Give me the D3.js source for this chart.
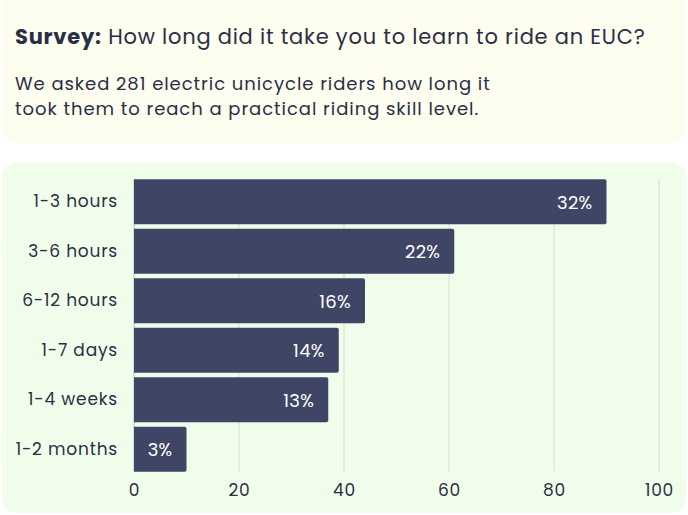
<!DOCTYPE html>
<html>
<head>
<meta charset="utf-8">
<script src="https://cdn.jsdelivr.net/npm/d3@7"></script>
<style>
  html, body { margin: 0; padding: 0; background: #ffffff; }
  svg { display: block; font-family: Poppins, Inter, "Noto Sans", sans-serif; }
</style>
</head>
<body>
<svg id="chart" width="688" height="515"></svg>
<script>
// survey answers, number of riders per bucket
var categories = ["1-3 hours", "3-6 hours", "6-12 hours", "1-7 days", "1-4 weeks", "1-2 months"];
var riders = [90, 61, 44, 39, 37, 10];
var percentLabels = ["32%", "22%", "16%", "14%", "13%", "3%"];
var xTicks = [0, 20, 40, 60, 80, 100];

var titleBold = "Survey:";
var titleRest = " How long did it take you to learn to ride an EUC?";
var subtitleLines = ["We asked 281 electric unicycle riders how long it",
                     "took them to reach a practical riding skill level."];

var svg = d3.select("#chart");
var ink = "#2b2f45";

// header card
svg.append("rect")
    .attr("x", 2).attr("y", -12)
    .attr("width", 684).attr("height", 155)
    .attr("rx", 14)
    .attr("fill", "#fdfdf0");

var title = svg.append("text")
    .attr("x", 15).attr("y", 44)
    .attr("font-size", 21)
    .attr("letter-spacing", 0.77)
    .attr("fill", ink);
title.append("tspan").attr("font-weight", 700).text(titleBold);
title.append("tspan").text(titleRest);

svg.selectAll(".sub")
    .data(subtitleLines)
    .enter().append("text")
    .attr("class", "sub")
    .attr("x", 15)
    .attr("y", function (d, i) { return 90 + i * 25; })
    .attr("font-size", 18)
    .attr("letter-spacing", 0.95)
    .attr("fill", ink)
    .text(function (d) { return d; });

// chart card
svg.append("rect")
    .attr("x", 2).attr("y", 163)
    .attr("width", 684).attr("height", 350)
    .attr("rx", 14)
    .attr("fill", "#f1fdeb");

var x = d3.scaleLinear().domain([0, 100]).range([134, 659]);
var y = d3.scaleBand()
    .domain(categories)
    .range([177, 474])
    .paddingInner(0.09)
    .paddingOuter(0.045);

var plotTop = y(categories[0]);
var plotBottom = y(categories[categories.length - 1]) + y.bandwidth();

// vertical grid
svg.append("g")
    .selectAll("line")
    .data(xTicks)
    .enter().append("line")
    .attr("x1", function (d) { return x(d); })
    .attr("x2", function (d) { return x(d); })
    .attr("y1", plotTop)
    .attr("y2", plotBottom)
    .attr("stroke", function (d) { return d === 0 ? "#b9c2b7" : "#d4ded1"; })
    .attr("stroke-width", 1);

var rows = categories.map(function (c, i) {
    return { name: c, value: riders[i], label: percentLabels[i] };
});

// bars, square on the left, slightly rounded on the right
function barPath(d) {
    var x0 = x(0), x1 = x(d.value), y0 = y(d.name), h = y.bandwidth(), r = 2;
    return "M" + x0 + "," + y0 +
        "H" + (x1 - r) + "Q" + x1 + "," + y0 + " " + x1 + "," + (y0 + r) +
        "V" + (y0 + h - r) + "Q" + x1 + "," + (y0 + h) + " " + (x1 - r) + "," + (y0 + h) +
        "H" + x0 + "Z";
}

svg.append("g")
    .selectAll("path")
    .data(rows)
    .enter().append("path")
    .attr("d", barPath)
    .attr("fill", "#3e4565");

svg.append("g")
    .selectAll("text")
    .data(rows)
    .enter().append("text")
    .attr("x", function (d) { return x(d.value) - 14; })
    .attr("y", function (d) { return y(d.name) + y.bandwidth() / 2 + 7; })
    .attr("text-anchor", "end")
    .attr("font-size", 18)
    .attr("letter-spacing", 0.3)
    .attr("fill", "#ffffff")
    .text(function (d) { return d.label; });

// category axis
var yAxis = svg.append("g")
    .attr("transform", "translate(" + x(0) + ",0)")
    .call(d3.axisLeft(y).tickSize(0).tickPadding(16));
yAxis.select(".domain").remove();
yAxis.selectAll("text")
    .attr("font-size", 17)
    .attr("letter-spacing", 0.8)
    .attr("fill", ink);

// value axis
var xAxis = svg.append("g")
    .attr("transform", "translate(0," + plotBottom + ")")
    .call(d3.axisBottom(x).tickValues(xTicks).tickSize(0).tickPadding(12));
xAxis.select(".domain").remove();
xAxis.selectAll("text")
    .attr("font-size", 17)
    .attr("letter-spacing", 0.8)
    .attr("fill", ink);
svg.selectAll("g").attr("font-family", null);
</script>
</body>
</html>
